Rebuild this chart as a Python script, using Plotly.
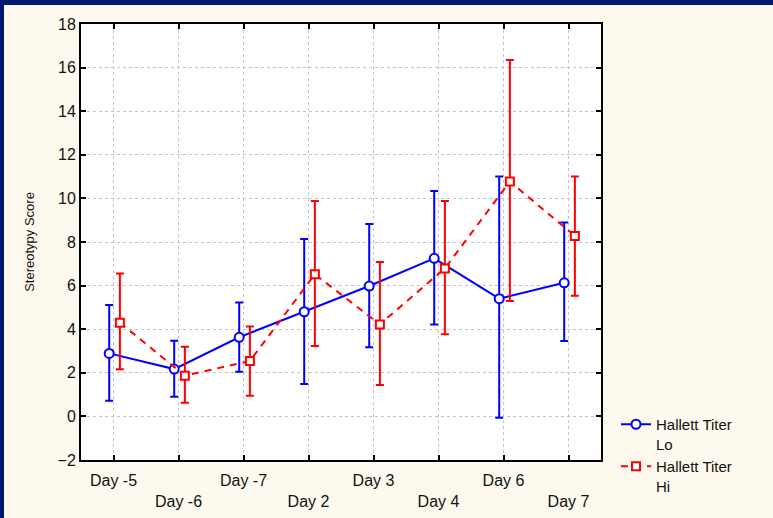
import plotly.graph_objects as go

days = ["Day -5", "Day -6", "Day -7", "Day 2", "Day 3", "Day 4", "Day 6", "Day 7"]
lo_mean = [2.89, 2.17, 3.63, 4.80, 5.98, 7.25, 5.40, 6.13]
lo_upper = [5.11, 3.47, 5.22, 8.14, 8.83, 10.34, 11.00, 8.90]
lo_lower = [0.72, 0.90, 2.05, 1.49, 3.17, 4.22, -0.06, 3.46]
hi_mean = [4.30, 1.87, 2.54, 6.52, 4.22, 6.79, 10.77, 8.28]
hi_upper = [6.56, 3.20, 4.12, 9.88, 7.08, 9.88, 16.35, 11.00]
hi_lower = [2.16, 0.63, 0.95, 3.23, 1.44, 3.77, 5.29, 5.54]
y_ticks = [-2, 0, 2, 4, 6, 8, 10, 12, 14, 16, 18]

FONT = "Liberation Sans, Arial, sans-serif"
BLUE = "#0000ff"
RED = "#ff0000"
NAVY = "#001a72"

idx = list(range(len(days)))
x_lo = [i - 0.066 for i in idx]
x_hi = [i + 0.098 for i in idx]

fig = go.Figure()
fig.add_trace(go.Scatter(
    x=x_lo, y=lo_mean, mode="lines+markers", name="Hallett Titer<br>Lo",
    line=dict(color=BLUE, width=2),
    marker=dict(symbol="circle", size=9, color="white", line=dict(color=BLUE, width=2)),
    error_y=dict(type="data", symmetric=False,
                 array=[u - m for u, m in zip(lo_upper, lo_mean)],
                 arrayminus=[m - l for m, l in zip(lo_mean, lo_lower)],
                 color=BLUE, thickness=2, width=4),
))
fig.add_trace(go.Scatter(
    x=x_hi, y=hi_mean, mode="lines+markers", name="Hallett Titer<br>Hi",
    line=dict(color=RED, width=2, dash="7px,6px"),
    marker=dict(symbol="square", size=8, color="white", line=dict(color=RED, width=2)),
    error_y=dict(type="data", symmetric=False,
                 array=[u - m for u, m in zip(hi_upper, hi_mean)],
                 arrayminus=[m - l for m, l in zip(hi_mean, hi_lower)],
                 color=RED, thickness=2, width=4),
))

ticktext = [d if i % 2 == 0 else "<br>" + d for i, d in enumerate(days)]

W, H = 773, 518
L, R, T, B = 81, 172, 24, 58
pw = W - L - R
ph = H - T - B

fig.update_layout(
    width=W, height=H,
    margin=dict(l=L, r=R, t=T, b=B, autoexpand=False),
    paper_bgcolor="#fef9ee",
    plot_bgcolor="white",
    font=dict(family=FONT, size=16, color="#111111"),
    showlegend=True,
    legend=dict(x=(616 - L) / pw, xanchor="left", y=(H - B - 408) / ph, yanchor="top",
                bgcolor="rgba(0,0,0,0)", valign="top", font=dict(size=15),
                tracegroupgap=0),
    xaxis=dict(range=[-0.5, 7.5], tickvals=idx, ticktext=ticktext, automargin=False,
               showgrid=True, gridcolor="#c4c4c4", griddash="3px,3px", gridwidth=1,
               zeroline=False, showline=True, linecolor="black", linewidth=2,
               mirror="ticks", ticks="inside", ticklen=5, tickwidth=2, tickcolor="black",
               tickfont=dict(size=16), ticklabelstandoff=5),
    yaxis=dict(range=[-2, 18], tickvals=y_ticks, automargin=False,
               showgrid=True, gridcolor="#c4c4c4", griddash="3px,3px", gridwidth=1,
               zeroline=False, showline=True, linecolor="black", linewidth=2,
               mirror="ticks", ticks="inside", ticklen=5, tickwidth=2, tickcolor="black",
               tickfont=dict(size=16),
               title=dict(text="Stereotypy Score", font=dict(size=13), standoff=20)),
    shapes=[
        dict(type="rect", xref="paper", yref="paper",
             x0=-L / pw - 0.01, x1=(4 - L) / pw, y0=-B / ph - 0.01, y1=(ph + T) / ph + 0.01,
             fillcolor=NAVY, line=dict(width=0), layer="above"),
        dict(type="rect", xref="paper", yref="paper",
             x0=-L / pw - 0.01, x1=(pw + R) / pw + 0.01, y0=(ph + T - 5) / ph, y1=(ph + T) / ph + 0.01,
             fillcolor=NAVY, line=dict(width=0), layer="above"),
    ],
)

fig.write_html("out.html", config={"displayModeBar": False},
               post_script="document.body.style.margin='0';document.body.style.overflow='hidden';")
